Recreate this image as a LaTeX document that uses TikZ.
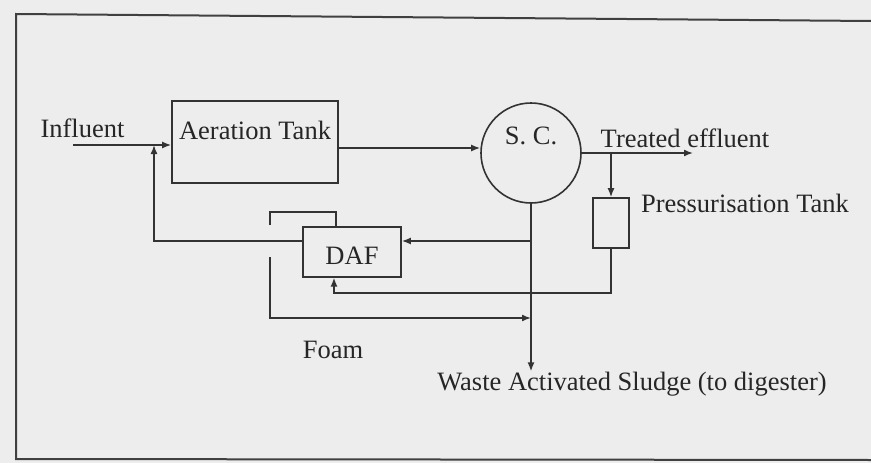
\documentclass[tikz,border=0pt]{standalone}
\usepackage{fontspec}
\setmainfont{Liberation Serif}
\usetikzlibrary{arrows.meta,positioning}

\begin{document}
\begin{tikzpicture}[
  x=1pt, y=-1pt,
  font=\fontsize{26.5}{30}\selectfont,
  every node/.style={text=black!85},
  unit/.style={draw=black!80, line width=1.6pt, inner sep=0pt},
  tag/.style={inner sep=0pt, anchor=base},
  pipe/.style={draw=black!80, line width=1.6pt},
  flow/.style={pipe, -{Latex[length=9pt,width=7pt]}}
]
  % scanned page and its frame
  \fill[black!7] (0,0) rectangle (871,463);
  \useasboundingbox (0,0) rectangle (871,463);
  \draw[line width=2pt, black!75] (871,21) -- (16,14) -- (16,459) -- (871,460);

  % units
  \node[unit, anchor=north, minimum width=166pt, text height=39pt, text depth=43pt] (aer) at (255,100) {Aeration Tank};
  \node[unit, circle, minimum size=100pt, text height=20pt, text depth=38pt] (sc) at (531,153) {S. C.};
  \node[unit, anchor=north, minimum width=98pt, text height=38pt, text depth=12pt] (daf) at (352,226) {DAF};
  \node[unit, minimum width=36pt, minimum height=50pt] (pt) at (611,223) {};

  % labels
  \node[tag] (inf) at (82.5,137) {Influent};
  \node[tag] (eff) at (685,147) {Treated effluent};
  \node[tag] (ptl) at (745,212) {Pressurisation Tank};
  \node[tag] (foam) at (333,358) {Foam};
  \node[tag] (was) at (632,390) {Waste Activated Sludge (to digester)};

  % junctions
  \coordinate (in) at (73,145);
  \coordinate (mix) at (154,145);
  \coordinate (out) at (693,153);
  \coordinate (tee) at (sc.east -| pt.north);
  \coordinate (ras) at (sc.south |- 0,241);
  \coordinate (foamin) at (sc.south |- 0,318);
  \coordinate (skim) at ([xshift=-16pt]daf.north);
  \coordinate (foamtop) at (270,212);
  \coordinate (foamcut) at (270,225);
  \coordinate (foamdown) at (270,257);
  \coordinate (dafin) at ([xshift=-18pt]daf.south);

  % main line
  \draw[flow] (in) -- (in -| aer.west);
  \draw[flow] (aer.east |- 0,148) -- (sc.west |- 0,148);
  \draw[flow] (sc.east) -- (out);
  \draw[flow] (tee) -- (pt.north);

  % sludge
  \draw[flow] (sc.south) -- (sc.south |- was.north);
  \draw[flow] (ras) -- (ras -| daf.east);
  \draw[flow] (daf.west |- ras) -| (mix);
  \draw[flow] (pt.south) -- ++(0,44) -| (dafin);

  % foam
  \draw[pipe] (skim) |- (foamtop) -- (foamcut);
  \draw[flow] (foamdown) |- (foamin);
\end{tikzpicture}
\end{document}
